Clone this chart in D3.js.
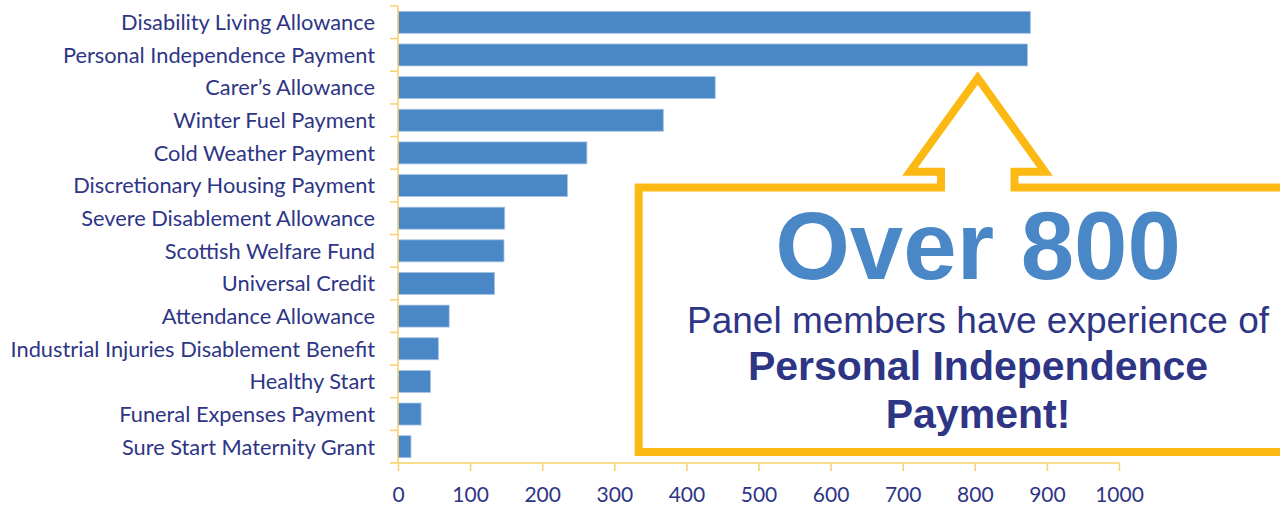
<!DOCTYPE html>
<html>
  <head>
    <title>Benefits experience of panel members</title>
    <style>
      body,
      html {
        margin: 0;
        padding: 0;
        background: #fff;
      }
      #svg {
        display: block;
      }
      .lbl {
        font-family: Lato, 'Noto Sans', sans-serif;
        fill: #2e3585;
      }
      .callout {
        font-family: 'Liberation Sans', Arial, sans-serif;
        text-anchor: middle;
      }
    </style>
  </head>
  <body>
    <svg id="svg" width="1280" height="506"></svg>
    <script src="https://cdn.jsdelivr.net/npm/d3@7"></script>
    <script>
      const benefits = [
        'Disability Living Allowance',
        'Personal Independence Payment',
        'Carer\u2019s Allowance',
        'Winter Fuel Payment',
        'Cold Weather Payment',
        'Discretionary Housing Payment',
        'Severe Disablement Allowance',
        'Scottish Welfare Fund',
        'Universal Credit',
        'Attendance Allowance',
        'Industrial Injuries Disablement Benefit',
        'Healthy Start',
        'Funeral Expenses Payment',
        'Sure Start Maternity Grant'
      ];
      const members = [877, 873, 440, 368, 262, 235, 148, 147, 134, 71, 56, 45, 32, 18];
      const xTicks = [0, 100, 200, 300, 400, 500, 600, 700, 800, 900, 1000];
      const calloutBig = 'Over 800';
      const calloutLines = [
        'Panel members have experience of',
        'Personal Independence',
        'Payment!'
      ];

      const svg = d3.select('#svg');
      const axisColor = '#f9d06c';
      const gold = '#fdb913';
      const textColor = '#2e3585';

      const x = d3.scaleLinear().domain([0, 1000]).range([398, 1119]);
      const pad = 0.326;
      const y = d3
        .scaleBand()
        .domain(benefits)
        .range([6, 463])
        .paddingInner(pad)
        .paddingOuter(pad / 2);
      const step = y.step();

      // bars
      svg
        .append('g')
        .selectAll('rect')
        .data(benefits)
        .enter()
        .append('rect')
        .attr('x', x(0))
        .attr('y', (d) => y(d))
        .attr('width', (d, i) => x(members[i]) - x(0))
        .attr('height', y.bandwidth())
        .attr('fill', '#4a87c6')
        .attr('stroke', '#a9c4e4')
        .attr('stroke-width', 0.8);

      // axes lines and ticks
      const axes = svg.append('g').attr('stroke', axisColor).attr('stroke-width', 1.5);
      axes
        .append('line')
        .attr('x1', x(0))
        .attr('x2', x(0))
        .attr('y1', 6)
        .attr('y2', 463);
      axes
        .append('line')
        .attr('x1', x(0) - 8)
        .attr('x2', x(1000))
        .attr('y1', 463)
        .attr('y2', 463);
      const bounds = benefits.map((d) => y(d) - (step * pad) / 2);
      axes
        .selectAll('.yt')
        .data(bounds)
        .enter()
        .append('line')
        .attr('x1', x(0) - 8)
        .attr('x2', x(0))
        .attr('y1', (d) => d)
        .attr('y2', (d) => d);

      const xAxis = svg
        .append('g')
        .attr('transform', 'translate(0,463)')
        .call(d3.axisBottom(x).tickValues(xTicks).tickSize(8).tickFormat(d3.format('d')));
      xAxis.select('.domain').remove();
      xAxis.selectAll('line').attr('stroke', axisColor).attr('stroke-width', 1.5);
      xAxis
        .selectAll('text')
        .attr('class', 'lbl')
        .attr('font-size', 21)
        .attr('y', 38.7)
        .attr('dy', null);

      const yAxis = svg
        .append('g')
        .attr('transform', `translate(${x(0)},0)`)
        .call(d3.axisLeft(y).tickSize(0).tickPadding(23));
      yAxis.select('.domain').remove();
      yAxis
        .selectAll('text')
        .attr('class', 'lbl')
        .attr('font-size', 21.8)
        .attr('dy', '0.36em');

      // callout shape
      const outline = [
        [1290, 187.5],
        [1014.5, 187.5],
        [1014.5, 171.7],
        [1045, 171.7],
        [977.7, 78],
        [910, 171.7],
        [941, 171.7],
        [941, 187.5],
        [638.7, 187.5],
        [638.7, 452],
        [1290, 452]
      ];
      svg
        .append('path')
        .attr('d', d3.line()(outline))
        .attr('fill', 'none')
        .attr('stroke', gold)
        .attr('stroke-width', 8)
        .attr('stroke-linejoin', 'miter')
        .attr('stroke-miterlimit', 10);

      svg
        .append('text')
        .attr('class', 'callout')
        .attr('x', 978)
        .attr('y', 279)
        .attr('font-size', 96)
        .attr('font-weight', 'bold')
        .attr('fill', '#4a87c6')
        .text(calloutBig);

      svg
        .append('g')
        .selectAll('text')
        .data(calloutLines)
        .enter()
        .append('text')
        .attr('class', 'callout')
        .attr('x', 978)
        .attr('y', (d, i) => [333, 380, 428][i])
        .attr('font-size', (d, i) => (i === 0 ? 37 : 41))
        .attr('font-weight', (d, i) => (i === 0 ? 'normal' : 'bold'))
        .attr('fill', textColor)
        .text((d) => d);
    </script>
  </body>
</html>
